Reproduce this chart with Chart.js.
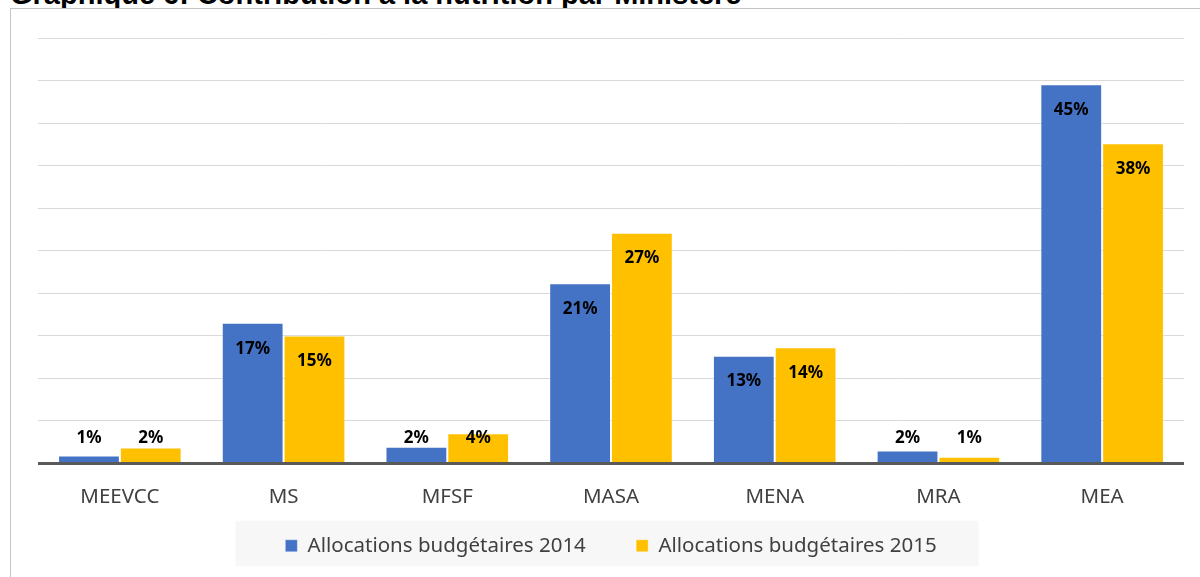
<!DOCTYPE html>
<html>
<head>
<meta charset="utf-8">
<script src="https://cdn.jsdelivr.net/npm/chart.js@4"></script>
<style>
  body { margin: 0; width: 1200px; height: 577px; overflow: hidden; background: #fff; position: relative; }
  #title { position: absolute; left: 10px; top: -20px; font: bold 29px "Liberation Sans", Arial, sans-serif; line-height: 29px; color: #000; white-space: nowrap; }
  #box { position: absolute; left: 10px; top: 8px; width: 1230px; height: 600px; border: 1px solid #c4c4c4; background: #fff; }
  #wrap { position: absolute; left: 0; top: 0; width: 1210px; height: 557px; }
</style>
</head>
<body>
<div id="title">Graphique 6: Contribution à la nutrition par Ministère</div>
<div id="box"><div id="wrap"><canvas id="chart"></canvas></div></div>
<script>
const ministeres = ["MEEVCC", "MS", "MFSF", "MASA", "MENA", "MRA", "MEA"];
const alloc2014 = [0.95, 16.7, 2.0, 21.4, 12.8, 1.55, 45];
const alloc2015 = [1.9, 15.2, 3.6, 27.4, 13.8, 0.8, 38];
const seriesNames = ["Allocations budgétaires 2014", "Allocations budgétaires 2015"];

const blue = "#4472C4";
const yellow = "#FFC000";
const font = '"Noto Sans", "Open Sans", sans-serif';

// draws the % labels at the inside end of each bar
const barLabels = {
    id: 'barLabels',
    afterDatasetsDraw(chart) {
        const ctx = chart.ctx;
        ctx.save();
        ctx.font = 'bold 17px ' + font;
        ctx.fillStyle = '#000';
        ctx.textAlign = 'center';
        ctx.textBaseline = 'middle';
        chart.data.datasets.forEach((ds, i) => {
            chart.getDatasetMeta(i).data.forEach((bar, j) => {
                const y = Math.min(bar.y + 26, bar.base - 24);
                ctx.fillText(Math.round(ds.data[j]) + '%', bar.x, y);
            });
        });
        ctx.restore();
    }
};

// light grey band behind the legend
const legendBg = {
    id: 'legendBg',
    beforeDraw(chart) {
        const boxes = chart.legend.legendHitBoxes;
        if (!boxes || !boxes.length) return;
        const first = boxes[0], last = boxes[boxes.length - 1];
        const cy = first.top + first.height / 2;
        const ctx = chart.ctx;
        ctx.save();
        ctx.fillStyle = '#f7f7f7';
        ctx.fillRect(first.left - 50, cy - 25, (last.left + last.width + 42) - (first.left - 50), 48);
        ctx.restore();
    }
};

new Chart(document.getElementById('chart'), {
    type: 'bar',
    data: {
        labels: ministeres,
        datasets: [{
            label: seriesNames[0],
            data: alloc2014,
            backgroundColor: blue,
            borderColor: 'rgba(255,255,255,0.35)',
            borderWidth: 1,
            categoryPercentage: 0.755,
            barPercentage: 1.0
        }, {
            label: seriesNames[1],
            data: alloc2015,
            backgroundColor: yellow,
            borderColor: 'rgba(255,255,255,0.35)',
            borderWidth: 1,
            categoryPercentage: 0.755,
            barPercentage: 1.0
        }]
    },
    options: {
        responsive: true,
        maintainAspectRatio: false,
        animation: false,
        layout: { padding: { left: 27, right: 37, top: 29, bottom: 0 } },
        plugins: {
            tooltip: { enabled: false },
            legend: {
                position: 'bottom',
                labels: {
                    boxWidth: 12,
                    boxHeight: 12,
                    padding: 29,
                    color: '#404040',
                    font: { family: font, size: 20.5 },
                    // wider gap between the two entries
                    generateLabels(chart) {
                        const items = Chart.defaults.plugins.legend.labels.generateLabels(chart);
                        items[0].text += '\u00a0\u00a0\u00a0\u00a0';
                        return items;
                    }
                }
            }
        },
        scales: {
            x: {
                grid: { display: false },
                border: { display: false },
                ticks: { color: '#404040', padding: 13, font: { family: font, size: 20.5 } },
                afterFit(scale) { scale.height = 43; }
            },
            y: {
                min: 0,
                max: 50.5,
                border: { display: false },
                ticks: { display: false, count: 11 },
                grid: {
                    drawTicks: false,
                    color: ctx => ctx.tick.value === 0 ? '#595959' : '#d9d9d9',
                    lineWidth: ctx => ctx.tick.value === 0 ? 3 : 1
                }
            }
        }
    },
    plugins: [barLabels, legendBg]
});
</script>
</body>
</html>
